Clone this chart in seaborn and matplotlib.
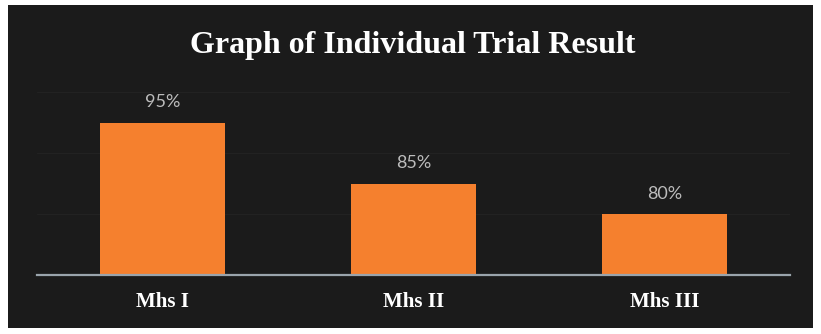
import matplotlib
matplotlib.use("Agg")
import matplotlib.pyplot as plt
import seaborn as sns
import pandas as pd
from matplotlib.patches import Rectangle

categories = ["Mhs I", "Mhs II", "Mhs III"]
values = [95, 85, 80]
value_labels = ["95%", "85%", "80%"]
title = "Graph of Individual Trial Result"

df = pd.DataFrame({"cat": categories, "val": values})

sns.set_theme(style="white")
plt.rcParams["font.family"] = ["DejaVu Sans"]

fig = plt.figure(figsize=(8.21, 3.34), dpi=100)
fig.patch.set_facecolor("white")
bg = Rectangle((8 / 821, 1 - 328 / 334), (813 - 8) / 821, (328 - 5) / 334,
               transform=fig.transFigure, facecolor="#1b1b1b", edgecolor="none", zorder=-5)
fig.patches.append(bg)

ax = fig.add_axes([37 / 821, 1 - 275 / 334, (790 - 37) / 821, (275 - 92) / 334])
ax.set_facecolor("none")
ax.set_zorder(2)

sns.barplot(data=df, x="cat", y="val", color="#f5802e", width=0.5, ax=ax,
            saturation=1, edgecolor="none")

ax.set_ylim(70, 100)
ax.set_xlim(-0.5, 2.5)
ax.set_yticks([80, 90, 100])
ax.yaxis.grid(True, color="#222222", linewidth=0.8)
ax.set_axisbelow(True)
ax.tick_params(axis="y", length=0, labelleft=False)
ax.tick_params(axis="x", length=0, pad=12)
for lab in ax.get_xticklabels():
    lab.set_family("Liberation Serif")
    lab.set_weight("bold")
    lab.set_fontsize(15)
    lab.set_color("white")
ax.set_xlabel("")
ax.set_ylabel("")
for s in ["top", "left", "right"]:
    ax.spines[s].set_visible(False)
ax.spines["bottom"].set_color("#9aa4ac")
ax.spines["bottom"].set_linewidth(1.6)

ax.bar_label(ax.containers[0], labels=value_labels, padding=9,
             color="#bcbcbc", fontsize=13, family="Lato")

fig.text(0.503, 1 - 46 / 334, title, ha="center", va="center",
         family="Liberation Serif", weight="bold", fontsize=23, color="white",
         zorder=3)

fig.savefig("out.png", dpi=100, facecolor=fig.get_facecolor())
